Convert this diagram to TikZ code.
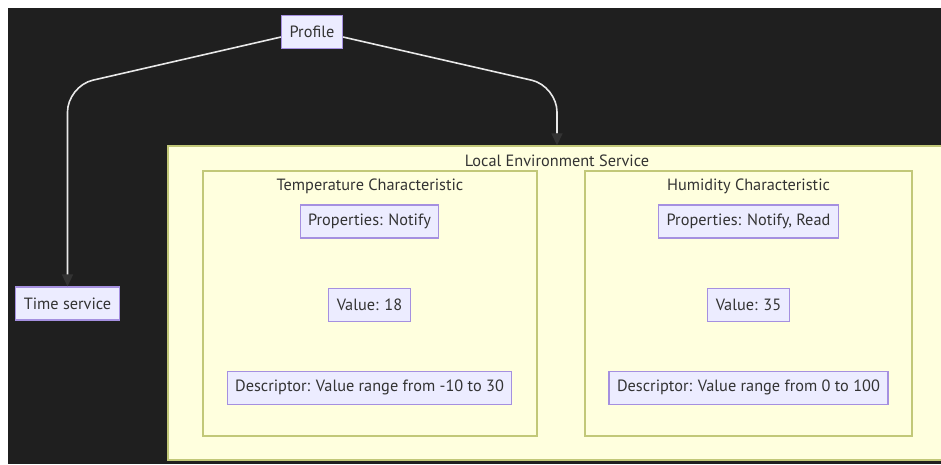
\documentclass[tikz,border=0pt]{standalone}
\usepackage{fontspec}
\setmainfont{PT Sans}
\usetikzlibrary{positioning,arrows.meta}

\definecolor{canvas}{HTML}{1F1F1F}
\definecolor{nodefill}{HTML}{ECECFF}
\definecolor{nodeline}{HTML}{A590E0}
\definecolor{clusterfill}{HTML}{FFFFDE}
\definecolor{clusterline}{HTML}{C2C878}
\definecolor{textgray}{HTML}{333333}
\definecolor{linkgray}{HTML}{E8E8E8}

\tikzset{
  attr/.style={draw=nodeline, fill=nodefill, text=textgray, line width=1.2pt,
    minimum height=33pt, inner xsep=8pt, font=\fontsize{16.3}{19}\selectfont},
  cluster/.style={draw=clusterline, fill=clusterfill, line width=1.4pt},
  heading/.style={text=textgray, font=\fontsize{16.3}{19}\selectfont},
  flow/.style={draw=linkgray, line width=1.6pt, rounded corners=26pt,
    -{Triangle[length=12pt,width=11pt,color=textgray]}}
}

\begin{document}
\begin{tikzpicture}[x=1pt, y=-1pt, node distance=49pt]
    % canvas
    \fill[white] (0,0) rectangle (941,464);
    \fill[canvas] (8,8) rectangle (941,464);
    \useasboundingbox (0,0) rectangle (941,464);
    \clip (0,0) rectangle (941,464);

    % service and its two characteristics
    \node [cluster, minimum width=778pt, minimum height=314pt] (lesvc) at (557,303) {};
    \node [heading] (lesvc-title) at ([yshift=-15.5pt]lesvc.north) {Local Environment Service};

    \node [cluster, minimum width=334pt, minimum height=265pt] (tempchar) at (370,303.5) {};
    \node [heading] (tempchar-title) at ([yshift=-16.5pt]tempchar.north) {Temperature Characteristic};

    \node [cluster, minimum width=327pt, minimum height=265pt] (humchar) at (748.5,303.5) {};
    \node [heading] (humchar-title) at ([yshift=-16.5pt]humchar.north) {Humidity Characteristic};

    % temperature
    \node [attr] (tempprops) at (369.5,221.5) {Properties: Notify};
    \node [attr, below=of tempprops] (tempval) {Value: 18};
    \node [attr, below=of tempval] (tempdesc) {Descriptor: Value range from -10 to 30};

    % humidity
    \node [attr] (humprops) at (748.5,221.5) {Properties: Notify, Read};
    \node [attr, below=of humprops] (humval) {Value: 35};
    \node [attr, below=of humval] (humdesc) {Descriptor: Value range from 0 to 100};

    % profile and time service
    \node [attr] (profile) at (312,32) {Profile};
    \node [attr] (time) at (67.5,303.5) {Time service};

    \draw [flow] ([yshift=-5pt]profile.west) -- (time.north |- 0,86) -- (time.north);
    \draw [flow] ([yshift=-5pt]profile.east) -- (lesvc.north |- 0,86) -- (lesvc.north);
\end{tikzpicture}
\end{document}
